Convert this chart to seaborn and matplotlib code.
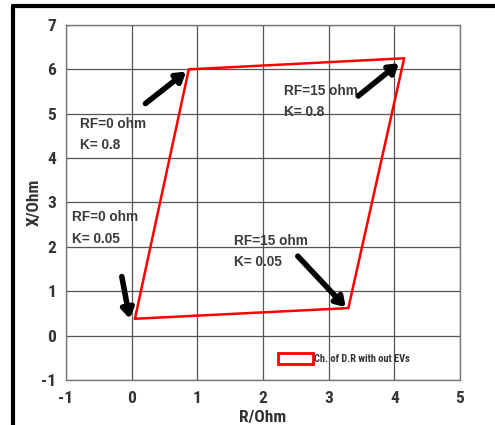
import matplotlib
matplotlib.use("Agg")
import matplotlib.pyplot as plt
import seaborn as sns
import pandas as pd
from matplotlib.patches import Patch
from matplotlib.lines import Line2D
from matplotlib import font_manager

# Data: characteristic of the distance relay (quadrilateral) without EVs
R_ohm = [0.05, 0.87, 4.15, 3.30]
X_ohm = [0.38, 6.00, 6.25, 0.62]
series_label = "Ch. of D.R with out EVs"

x_ticks = [-1, 0, 1, 2, 3, 4, 5]
y_ticks = [-1, 0, 1, 2, 3, 4, 5, 6, 7]

# annotation texts, their anchor (left, top) and arrow start/end
note_texts = ["RF=0 ohm\nK= 0.8", "RF=15 ohm\nK= 0.8", "RF=0 ohm\nK= 0.05", "RF=15 ohm\nK= 0.05"]
note_x = [-0.78, 2.32, -0.91, 1.56]
note_y = [4.93, 5.67, 2.82, 2.30]
arrow_x0 = [0.21, 3.45, -0.15, 2.53]
arrow_y0 = [5.23, 5.40, 1.33, 1.79]
arrow_x1 = [0.83, 4.07, -0.03, 3.26]
arrow_y1 = [5.95, 6.14, 0.38, 0.64]

df = pd.DataFrame({"R": R_ohm + R_ohm[:1], "X": X_ohm + X_ohm[:1]})

sns.set_style("white")

fonts = font_manager.fontManager.ttflist
names = {f.name for f in fonts}
cond = None
for cand in ["Roboto Condensed", "Liberation Sans Narrow", "Open Sans Condensed"]:
    if cand in names:
        cond = dict(family=cand, weight="bold")
        break
if cond is None:
    if any(f.name == "DejaVu Sans" and f.stretch == "condensed" for f in fonts):
        cond = dict(family="DejaVu Sans", stretch="condensed", weight="bold")
    else:
        cond = dict(family="Roboto", weight="bold")

fig = plt.figure(figsize=(4.95, 4.25), dpi=100)
ax = fig.add_axes([0.1333, 0.1059, 0.7960, 0.8353])

sns.lineplot(data=df, x="R", y="X", sort=False, color="#ff0000", lw=1.8, ax=ax,
             legend=False, estimator=None)

ax.set_xlim(-1, 5)
ax.set_ylim(-1, 7)
ax.set_xticks(x_ticks)
ax.set_yticks(y_ticks)
ax.grid(True, color="#555555", lw=0.9)
ax.set_axisbelow(True)
for s in ax.spines.values():
    s.set_color("#777777")
    s.set_linewidth(1.0)
ax.tick_params(axis="y", length=0, pad=7)
ax.tick_params(axis="x", length=0, pad=8)

ax.set_xticklabels([str(t) for t in x_ticks], fontsize=12.5, color="#333333", **cond)
ax.set_yticklabels([str(t) for t in y_ticks], fontsize=12.5, color="#333333", **cond)
ax.set_xlabel("R/Ohm", fontsize=12.5, color="#333333", **cond)
ax.set_ylabel("X/Ohm", fontsize=12.5, color="#333333", **cond)
ax.xaxis.set_label_coords(0.5, -0.085)
ax.yaxis.set_label_coords(-0.062, 0.5)

for t, x, y in zip(note_texts, note_x, note_y):
    ax.text(x, y, t, fontsize=9.8, fontweight="bold", color="#3a3a3a",
            family="Liberation Sans", va="top", ha="left", linespacing=1.65)

for x0, y0, x1, y1 in zip(arrow_x0, arrow_y0, arrow_x1, arrow_y1):
    ax.annotate("", xy=(x1, y1), xytext=(x0, y0),
                arrowprops=dict(arrowstyle="-|>,head_width=0.35,head_length=0.55",
                                lw=4, color="black", shrinkA=0, shrinkB=0))

handle = Patch(facecolor="white", edgecolor="#ff0000", lw=2)
leg = ax.legend([handle], [series_label], loc="lower left",
                bbox_to_anchor=(0.52, 0.025), frameon=False,
                prop=dict(size=7.5, **cond),
                handlelength=3.3, handleheight=1.2, handletextpad=0.15, borderpad=0.2)
for txt in leg.get_texts():
    txt.set_color("#333333")

# figure frame (black border on left and top)
fig.add_artist(Line2D([13 / 495, 13 / 495], [0, 1 - 6 / 425], transform=fig.transFigure,
                      color="black", lw=3))
fig.add_artist(Line2D([13 / 495, 1], [1 - 6 / 425, 1 - 6 / 425], transform=fig.transFigure,
                      color="black", lw=3))

fig.savefig("out.png", dpi=100)
